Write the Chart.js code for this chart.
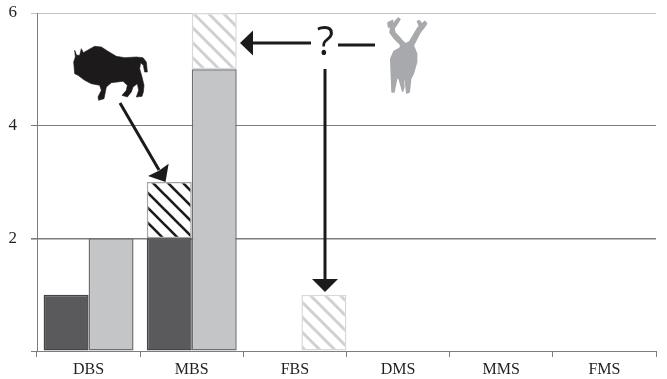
<!DOCTYPE html>
<html>
<head>
<meta charset="utf-8">
<script src="https://cdn.jsdelivr.net/npm/chart.js@4"></script>
<style>
  html, body { margin: 0; padding: 0; background: #fff; }
  #wrap { width: 667px; height: 379px; }
</style>
</head>
<body>
<div id="wrap"><canvas id="myChart" width="667" height="379"></canvas></div>
<script>
const categories = ['DBS', 'MBS', 'FBS', 'DMS', 'MMS', 'FMS'];
const yTicks = [0, 2, 4, 6];
const darkValues = [1, 2, null, null, null, null];
const darkHatchValues = [null, 1, null, null, null, null];
const lightValues = [2, 5, null, null, null, null];
const lightHatchValues = [null, 1, 1, null, null, null];

function hatch(bg, fg, lineWidth) {
  const size = 15;
  const c = document.createElement('canvas');
  c.width = size;
  c.height = size;
  const g = c.getContext('2d');
  g.fillStyle = bg;
  g.fillRect(0, 0, size, size);
  g.strokeStyle = fg;
  g.lineWidth = lineWidth;
  [-size, 0, size].forEach(o => {
    g.beginPath();
    g.moveTo(o - 2, -2);
    g.lineTo(o + size + 2, size + 2);
    g.stroke();
  });
  return g.createPattern(c, 'repeat');
}

const ctx = document.getElementById('myChart').getContext('2d');

function arrowHead(c, tipX, tipY, angle, len, halfW, notch) {
  c.save();
  c.translate(tipX, tipY);
  c.rotate(angle);
  c.beginPath();
  c.moveTo(0, 0);
  c.lineTo(-len, -halfW);
  c.lineTo(-len + notch, 0);
  c.lineTo(-len, halfW);
  c.closePath();
  c.fill();
  c.restore();
}

// outlines are traced at 3x, so scale them down around their origin
function silhouette(c, ox, oy, pts, fill, grow) {
  c.fillStyle = fill;
  c.strokeStyle = fill;
  c.lineWidth = grow;
  c.lineJoin = 'round';
  c.beginPath();
  pts.forEach((p, i) => {
    const x = ox + p[0] / 3, y = oy + p[1] / 3;
    i ? c.lineTo(x, y) : c.moveTo(x, y);
  });
  c.closePath();
  c.fill();
  c.stroke();
}

const bisonOutline = [
  [20, 25], [26, 40], [35, 40], [40, 20], [46, 32], [60, 24], [80, 13], [100, 15], [120, 28], [145, 43],
  [170, 47], [205, 45], [225, 47], [235, 60], [238, 90], [230, 90], [226, 70], [218, 62], [215, 80],
  [222, 105], [228, 130], [226, 150], [222, 163], [205, 165], [212, 145], [208, 125], [195, 135],
  [190, 150], [178, 165], [162, 160], [175, 145], [178, 130], [165, 118], [130, 122], [115, 135],
  [108, 170], [92, 175], [90, 165], [100, 145], [95, 130], [70, 125], [50, 115], [30, 100], [20, 95],
  [17, 60], [22, 45]
];
const deerOutline = [
  [24, 32], [38, 25], [36, 38], [55, 18], [60, 22], [50, 38], [42, 50], [45, 62], [58, 76], [72, 92],
  [78, 95], [88, 90], [100, 70], [112, 50], [118, 42], [112, 28], [118, 26], [125, 36], [135, 28],
  [140, 35], [132, 47], [120, 62], [108, 85], [100, 100], [110, 125], [110, 150], [100, 185], [92, 200],
  [88, 240], [80, 243], [76, 205], [70, 200], [72, 225], [68, 238], [60, 210], [55, 195], [50, 200],
  [42, 240], [36, 240], [34, 190], [32, 140], [42, 118], [60, 108], [62, 98], [45, 82], [30, 62],
  [32, 45], [25, 45]
];

const annotations = {
  id: 'annotations',
  // the FBS bar sits a little off its slot in the picture
  afterDatasetsUpdate(chart) {
    chart.getDatasetMeta(3).data[2].x += 6.5;
  },
  afterDatasetsDraw(chart) {
    const c = chart.ctx;
    c.save();

    // arrows
    c.strokeStyle = '#1c1a1b';
    c.fillStyle = '#1c1a1b';
    c.lineWidth = 3;
    c.beginPath();
    c.moveTo(120, 103); c.lineTo(159, 170);
    c.moveTo(250, 43); c.lineTo(311, 43);
    c.moveTo(338, 45); c.lineTo(375, 45);
    c.moveTo(325, 69); c.lineTo(325, 282);
    c.stroke();
    arrowHead(c, 165.5, 182, Math.atan2(79, 47), 14, 12, 1);
    arrowHead(c, 240, 43, Math.PI, 13, 12.5, 0);
    arrowHead(c, 325, 292, Math.PI / 2, 13, 13, 0);

    // question mark
    c.font = '40px "Open Sans"';
    c.textAlign = 'center';
    c.textBaseline = 'alphabetic';
    c.fillText('?', 325.5, 55);

    silhouette(c, 68, 42, bisonOutline, '#1c1a1b', 0.6);
    silhouette(c, 380, 12, deerOutline, '#a7a9ac', 1.4);

    c.restore();
  }
};

new Chart(ctx, {
  type: 'bar',
  plugins: [annotations],
  data: {
    labels: categories,
    datasets: [
      {
        label: 'dark',
        data: darkValues,
        stack: 'a',
        backgroundColor: '#5a5a5c',
        borderColor: '#454547',
        borderWidth: 1.5,
        borderSkipped: false
      },
      {
        label: 'dark hatch',
        data: darkHatchValues,
        stack: 'a',
        backgroundColor: hatch('#ffffff', '#1c1a1b', 2.6),
        borderColor: '#a5a5a5',
        borderWidth: 1.5,
        borderSkipped: false
      },
      {
        label: 'light',
        data: lightValues,
        stack: 'b',
        backgroundColor: '#c4c5c7',
        borderColor: '#6f6f71',
        borderWidth: 1.5,
        borderSkipped: false
      },
      {
        label: 'light hatch',
        data: lightHatchValues,
        stack: 'b',
        backgroundColor: hatch('#ffffff', '#cfd0d2', 3),
        borderColor: '#d8d8d8',
        borderWidth: 1.5,
        borderSkipped: false
      }
    ]
  },
  options: {
    responsive: false,
    animation: false,
    barPercentage: 1,
    categoryPercentage: 0.872,
    layout: { padding: { top: 13, right: 11, left: 0, bottom: 0 } },
    plugins: { legend: { display: false }, tooltip: { enabled: false } },
    scales: {
      x: {
        stacked: true,
        afterFit: s => { s.height = 28; s.paddingLeft = 0; s.paddingRight = 0; },
        grid: { drawOnChartArea: false, tickLength: 6, color: '#7d7d7f' },
        border: { color: '#7d7d7f', width: 1 },
        ticks: {
          color: '#231f20',
          padding: 3,
          maxRotation: 0,
          font: { family: '"Liberation Serif"', size: 16 }
        }
      },
      y: {
        stacked: true,
        min: 0,
        max: 6,
        afterFit: s => { s.width = 37; s.paddingTop = 0; s.paddingBottom = 0; },
        afterBuildTicks: s => { s.ticks = yTicks.map(v => ({ value: v })); },
        grid: {
          tickLength: 6,
          lineWidth: c => c.tick.value === 2 ? 1.6 : 1,
          color: c => c.tick.value === 6 ? '#c4c4c4' : '#7d7d7f'
        },
        border: { color: '#7d7d7f', width: 1 },
        ticks: {
          color: '#231f20',
          padding: 14,
          // the zero tick carries no label in the picture
          callback: v => v === 0 ? '' : String(v),
          font: { family: '"Liberation Serif"', size: 17 }
        }
      }
    }
  }
});
</script>
</body>
</html>
